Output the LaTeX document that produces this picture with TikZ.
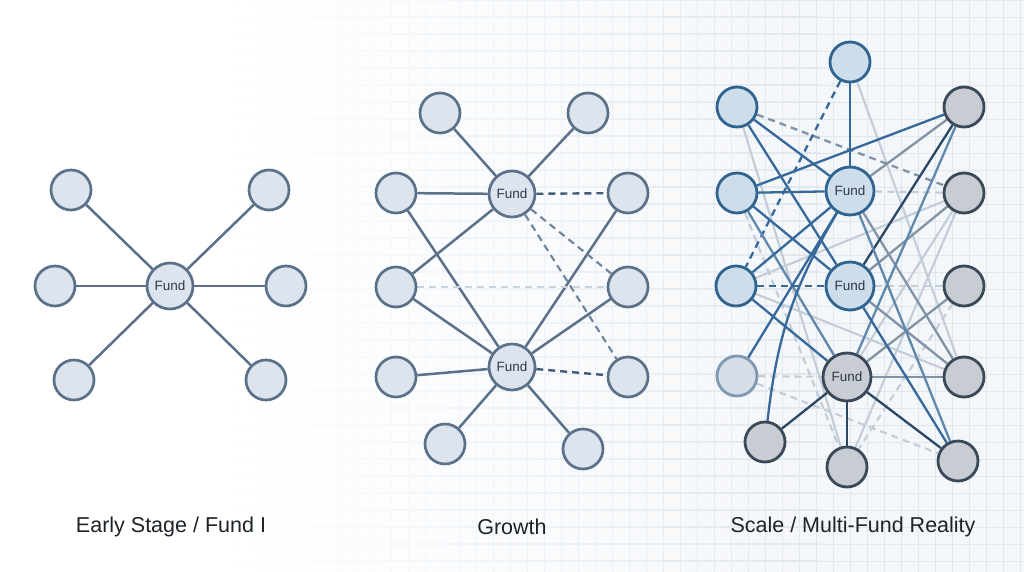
\documentclass[tikz,border=0pt]{standalone}
\usepackage{fontspec}
\setmainfont{Liberation Sans}
\definecolor{bgc}{HTML}{F4F7FA}
\definecolor{gridc}{HTML}{E0E7EE}
\definecolor{cas}{HTML}{5B7089}
\definecolor{caf}{HTML}{DDE4ED}
\definecolor{txt}{HTML}{2F3944}
\definecolor{lab}{HTML}{1E2328}
\definecolor{bls}{HTML}{2F6490}
\definecolor{blf}{HTML}{CEDDEA}
\definecolor{grs}{HTML}{3A4858}
\definecolor{grf}{HTML}{C8CDD3}
\definecolor{fas}{HTML}{7D98B0}
\definecolor{faf}{HTML}{D5DEE7}
\definecolor{cb}{HTML}{36699A}
\definecolor{cd}{HTML}{2A4866}
\definecolor{cg}{HTML}{8193A5}
\definecolor{cl}{HTML}{C2CDD8}
\definecolor{cm}{HTML}{5F88AD}
\definecolor{dk}{HTML}{425C7A}
\definecolor{md}{HTML}{6D839B}
\definecolor{lt}{HTML}{C9D3DD}
\pgfdeclarelayer{back}
\pgfsetlayers{back,main}
\tikzset{
  nA/.style={circle, draw=cas, fill=caf, line width=2.7pt, minimum size=40pt, inner sep=0pt},
  fA/.style={nA, minimum size=46pt, font=\fontsize{13.5}{15}\selectfont, text=txt},
  eA/.style={draw=cas, line width=2.5pt},
  nB/.style={circle, draw=bls, fill=blf, line width=2.8pt, minimum size=40pt, inner sep=0pt},
  nG/.style={circle, draw=grs, fill=grf, line width=2.8pt, minimum size=40pt, inner sep=0pt},
  nF/.style={circle, draw=fas, fill=faf, line width=2.8pt, minimum size=40pt, inner sep=0pt},
  fB/.style={nB, minimum size=48pt, font=\fontsize{13.5}{15}\selectfont, text=txt},
  fG/.style={nG, minimum size=48pt, font=\fontsize{13.5}{15}\selectfont, text=txt},
  eb/.style={draw=cb, line width=2.3pt},
  ed/.style={draw=cd, line width=2.3pt},
  eg/.style={draw=cg, line width=2.3pt},
  el/.style={draw=cl, line width=2.1pt},
  em/.style={draw=cm, line width=2.3pt},
  dsh/.style={dash pattern=on 7pt off 5pt},
  lbl/.style={font=\fontsize{21.5}{25}\selectfont, text=lab},
}
\begin{document}
\begin{tikzpicture}[x=1pt,y=-1pt]
\useasboundingbox (0,0) rectangle (1024,572);
\begin{pgfonlayer}{back}
\fill[white] (0,0) rectangle (1024,572);
\shade[left color=white, right color=bgc] (220,0) rectangle (820,572);
\fill[bgc] (820,0) rectangle (1024,572);
\foreach \x in {0,17,...,1020} {
  \pgfmathtruncatemacro\p{max(0,min(100,(\x-220)/6))}
  \draw[gridc!\p!white, line width=0.7pt] (\x,0) -- (\x,572);
}
\foreach \y in {0,17,...,572} {
  \shade[left color=white, right color=gridc] (220,{\y-0.3}) rectangle (820,{\y+0.3});
  \fill[gridc] (820,{\y-0.3}) rectangle (1024,{\y+0.3});
}
\end{pgfonlayer}

% ---------- Panel 1 ----------
\node[fA] (p1f) at (170,286) {Fund};
\node[nA] (p1a) at (71,190) {};
\node[nA] (p1b) at (269,190) {};
\node[nA] (p1c) at (55,286) {};
\node[nA] (p1d) at (286,286) {};
\node[nA] (p1e) at (74,380) {};
\node[nA] (p1g) at (266,380) {};
\begin{pgfonlayer}{back}
\foreach \n in {p1a,p1b,p1c,p1d,p1e,p1g} \draw[eA] (p1f) -- (\n);
\end{pgfonlayer}

% ---------- Panel 2 ----------
\node[fA] (q1) at (512,194) {Fund};
\node[fA] (q2) at (512,367) {Fund};
\node[nA] (qtl) at (440,113) {};
\node[nA] (qtr) at (588,113) {};
\node[nA] (ql1) at (396,193) {};
\node[nA] (ql2) at (396,287) {};
\node[nA] (ql3) at (396,377) {};
\node[nA] (qr1) at (628,193) {};
\node[nA] (qr2) at (628,287) {};
\node[nA] (qr3) at (628,377) {};
\node[nA] (qbl) at (445,444) {};
\node[nA] (qbr) at (583,449) {};
\begin{pgfonlayer}{back}
\draw[eA] (qtl) -- (q1);
\draw[eA] (qtr) -- (q1);
\draw[eA] (ql1) -- (q1);
\draw[eA] (ql2) -- (q1);
\draw[eA] (ql1) -- (q2);
\draw[eA] (ql2) -- (q2);
\draw[eA] (ql3) -- (q2);
\draw[eA] (q2) -- (qr1);
\draw[eA] (q2) -- (qr2);
\draw[eA] (q2) -- (qbl);
\draw[eA] (q2) -- (qbr);
\draw[draw=dk, line width=2.4pt, dsh] (q1) -- (qr1);
\draw[draw=md, line width=2.1pt, dsh] (q1) -- (qr2);
\draw[draw=md, line width=2.1pt, dsh] (q1) -- (qr3);
\draw[draw=lt, line width=2.1pt, dsh] (ql2) -- (qr2);
\draw[draw=dk, line width=2.4pt, dsh] (q2) -- (qr3);
\end{pgfonlayer}

% ---------- Panel 3 ----------
\node[nB] (t) at (850,62) {};
\node[nB] (a1) at (737,107) {};
\node[nB] (a2) at (737,193) {};
\node[nB] (a3) at (736,286) {};
\node[nF] (a4) at (737,376) {};
\node[fB] (f1) at (850,191) {Fund};
\node[fB] (f2) at (850,286) {Fund};
\node[fG] (f3) at (847,377) {Fund};
\node[nG] (r1) at (964,107) {};
\node[nG] (r2) at (964,193) {};
\node[nG] (r3) at (964,286) {};
\node[nG] (r4) at (964,377) {};
\node[nG] (b1) at (765,442) {};
\node[nG] (b2) at (847,467) {};
\node[nG] (b3) at (958,461) {};
\begin{pgfonlayer}{back}
% light / dashed background links
\draw[el] (t) -- (r4);
\draw[el] (a1) -- (b2);
\draw[el, dsh] (a2) -- (b2);
\draw[el] (a3) -- (r2);
\draw[el] (a3) -- (r4);
\draw[el, dsh] (a4) -- (f3);
\draw[el, dsh] (a4) -- (b3);
\draw[el] (f3) -- (r2);
\draw[el, dsh] (f2) -- (r3);
\draw[el, dsh] (f1) -- (r2);
\draw[el, dsh] (r3) -- (b2);
\draw[el] (r2) -- (b2);
\draw[eg, dsh] (a1) -- (r2);
% grey links
\draw[eg] (f1) -- (r1);
\draw[eg] (f1) -- (r4);
\draw[eg] (f2) -- (r2);
\draw[eg] (f2) -- (r4);
\draw[eg] (f3) -- (r3);
\draw[eg] (f3) -- (r4);
% blue links
\draw[eb] (t) -- (f1);
\draw[eb, dsh] (t) -- (a3);
\draw[eb] (a1) -- (f1);
\draw[eb] (a1) -- (f2);
\draw[eb] (a2) -- (r1);
\draw[eb] (a2) -- (f1);
\draw[eb] (a2) -- (f2);
\draw[em] (a2) -- (f3);
\draw[eb] (a3) -- (f1);
\draw[eb] (a3) -- (f3);
\draw[eb, dsh] (a3) -- (f2);
\draw[eb] (a4) -- (f1);
\draw[eb] (b1) to[bend left=12] (f1);
\draw[em] (f3) -- (r1);
\draw[ed] (f2) -- (r1);
\draw[eb] (f2) -- (b3);
\draw[em] (f1) -- (b3);
% dark links of the grey fund
\draw[ed] (f3) -- (b1);
\draw[ed] (f3) -- (b2);
\draw[ed] (f3) -- (b3);
\end{pgfonlayer}

% ---------- Labels ----------
\node[lbl] (l1) at (171,527) {Early Stage / Fund I};
\node[lbl] (l2) at (512,527) {Growth};
\node[lbl] (l3) at (853,527) {Scale / Multi-Fund Reality};
\end{tikzpicture}
\end{document}
